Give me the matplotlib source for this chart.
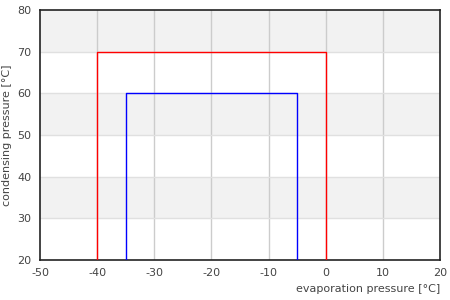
import matplotlib
matplotlib.use("Agg")
import matplotlib.pyplot as plt

plt.rcParams["axes.unicode_minus"] = False

# envelope outlines (evaporation, condensing) in °C
red_x = [-40, -40, 0, 0]
red_y = [20, 70, 70, 20]
blue_x = [-35, -35, -5, -5]
blue_y = [20, 60, 60, 20]

x_ticks = [-50, -40, -30, -20, -10, 0, 10, 20]
y_ticks = [20, 30, 40, 50, 60, 70, 80]
bands = [(30, 40), (50, 60), (70, 80)]

text_color = "#444444"
fig = plt.figure(figsize=(4.5, 3.0), dpi=100)
ax = fig.add_axes([40 / 450, 40 / 300, 400 / 450, 250 / 300])

for lo, hi in bands:
    ax.axhspan(lo, hi, color="#f2f2f2", lw=0, zorder=0)
for x in x_ticks[1:-1]:
    ax.axvline(x, color="#cccccc", lw=1, zorder=1)
for y in y_ticks[1:-1]:
    ax.axhline(y, color="#e0e0e0", lw=1, zorder=1)

ax.plot(red_x, red_y, color="red", lw=1, zorder=3)
ax.plot(blue_x, blue_y, color="blue", lw=1, zorder=3)

ax.set_xlim(-50, 20)
ax.set_ylim(20, 80)
ax.set_xticks(x_ticks)
ax.set_yticks(y_ticks)
ax.tick_params(length=0, labelsize=8, colors=text_color, pad=6)
for s in ax.spines.values():
    s.set_color("#222222")
    s.set_linewidth(1.2)

ax.set_xlabel("evaporation pressure [°C]", fontsize=8, color=text_color,
              loc="right", labelpad=4)
ax.set_ylabel("condensing pressure [°C]", fontsize=8, color=text_color,
              labelpad=4)

fig.savefig("out.png", dpi=100)
